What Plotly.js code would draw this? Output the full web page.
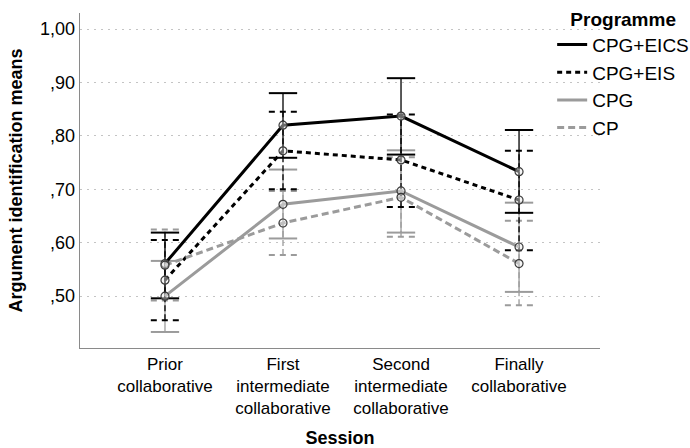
<!DOCTYPE html>
<html>
<head>
<meta charset="utf-8">
<script src="https://cdn.plot.ly/plotly-3.0.1.min.js"></script>
<style>html,body{margin:0;padding:0;background:#fff;}#chart{width:690px;height:448px;}</style>
</head>
<body>
<div id="chart"></div>
<script>
// ---- data ----
var sessions = ["Prior<br>collaborative", "First<br>intermediate<br>collaborative", "Second<br>intermediate<br>collaborative", "Finally<br>collaborative"];
var programmes = ["CPG+EICS", "CPG+EIS", "CPG", "CP"];

var meanEICS  = [0.561, 0.820, 0.837, 0.733];
var lowerEICS = [0.496, 0.759, 0.765, 0.656];
var upperEICS = [0.619, 0.880, 0.908, 0.811];

var meanEIS  = [0.530, 0.772, 0.755, 0.680];
var lowerEIS = [0.455, 0.700, 0.667, 0.586];
var upperEIS = [0.605, 0.845, 0.840, 0.772];

var meanCPG  = [0.500, 0.672, 0.697, 0.592];
var lowerCPG = [0.433, 0.608, 0.619, 0.508];
var upperCPG = [0.566, 0.737, 0.773, 0.675];

var meanCP  = [0.558, 0.637, 0.685, 0.561];
var lowerCP = [0.492, 0.577, 0.611, 0.483];
var upperCP = [0.625, 0.697, 0.760, 0.641];

var yTickVals = [0.5, 0.6, 0.7, 0.8, 0.9, 1.0];
var yTickText = [",50", ",60", ",70", ",80", ",90", "1,00"];

// ---- styles ----
var FONT = "Liberation Sans, Arial, sans-serif";
var BLACK = "#000000", GRAY = "#9b9b9b";
var series = [
  {name: programmes[0], mean: meanEICS, lo: lowerEICS, hi: upperEICS, color: BLACK, dash: "solid"},
  {name: programmes[1], mean: meanEIS,  lo: lowerEIS,  hi: upperEIS,  color: BLACK, dash: "5px,4px"},
  {name: programmes[2], mean: meanCPG,  lo: lowerCPG,  hi: upperCPG,  color: GRAY,  dash: "solid"},
  {name: programmes[3], mean: meanCP,   lo: lowerCP,   hi: upperCP,   color: GRAY,  dash: "7px,4px"}
];
var capHalf = 0.12;
var xIdx = sessions.map(function(_, i){ return i; });

var traces = [];
// error bars (whiskers + caps) built from data
series.slice().reverse().forEach(function(s){
  var wx = [], wy = [], cx = [], cy = [];
  for (var i = 0; i < xIdx.length; i++) {
    wx.push(xIdx[i], xIdx[i], null); wy.push(s.lo[i], s.hi[i], null);
    cx.push(xIdx[i]-capHalf, xIdx[i]+capHalf, null); cy.push(s.hi[i], s.hi[i], null);
    cx.push(xIdx[i]-capHalf, xIdx[i]+capHalf, null); cy.push(s.lo[i], s.lo[i], null);
  }
  traces.push({x: wx, y: wy, mode: "lines", showlegend: false, hoverinfo: "skip",
    line: {color: s.color, width: 1.3, dash: s.dash === "solid" ? "solid" : "6px,3px"}});
  traces.push({x: cx, y: cy, mode: "lines", showlegend: false, hoverinfo: "skip",
    line: {color: s.color, width: 2, dash: s.dash === "solid" ? "solid" : "6px,5px"}});
});
// mean lines (legend entries)
series.forEach(function(s){
  traces.push({x: xIdx, y: s.mean, name: s.name, mode: "lines",
    line: {color: s.color, width: 3, dash: s.dash}});
});
// mean markers
series.forEach(function(s){
  traces.push({x: xIdx, y: s.mean, mode: "markers", showlegend: false, hoverinfo: "skip",
    marker: {symbol: "circle", size: 8, color: "rgba(235,235,235,0.45)", line: {color: "#3a3a3a", width: 1.2}}});
});

var layout = {
  width: 690, height: 448,
  margin: {l: 80, r: 90, t: 13, b: 100, autoexpand: false},
  paper_bgcolor: "#fff", plot_bgcolor: "#fff",
  font: {family: FONT, color: "#000", size: 17},
  showlegend: true,
  legend: {
    x: 0.908, xanchor: "left", y: 1.036, yanchor: "top",
    font: {family: FONT, size: 19, color: "#000"},
    title: {text: "<b>Programme</b>", side: "top center", font: {family: FONT, size: 19, color: "#000"}},
    tracegroupgap: 0, itemwidth: 30, bgcolor: "rgba(0,0,0,0)"
  },
  xaxis: {
    range: [-0.72, 3.686],
    tickvals: xIdx, ticktext: sessions,
    showgrid: false, zeroline: false,
    showline: true, linecolor: "#8a8a8a", linewidth: 1.3,
    ticks: "", tickfont: {family: FONT, size: 17, color: "#000"},
    title: {text: "<b>Session</b>", font: {family: FONT, size: 18, color: "#000"}, standoff: 18}
  },
  yaxis: {
    range: [0.403, 1.030],
    tickvals: yTickVals, ticktext: yTickText,
    showgrid: true, gridcolor: "#c4c4c4", gridwidth: 1, griddash: "2px,5px",
    zeroline: false,
    showline: true, linecolor: "#8a8a8a", linewidth: 1.3,
    ticks: "", tickfont: {family: FONT, size: 18, color: "#000"},
    title: {text: "<b>Argument identification means</b>", font: {family: FONT, size: 18, color: "#000"}, standoff: 12}
  }
};

Plotly.newPlot("chart", traces, layout, {displayModeBar: false, staticPlot: true});
</script>
</body>
</html>
